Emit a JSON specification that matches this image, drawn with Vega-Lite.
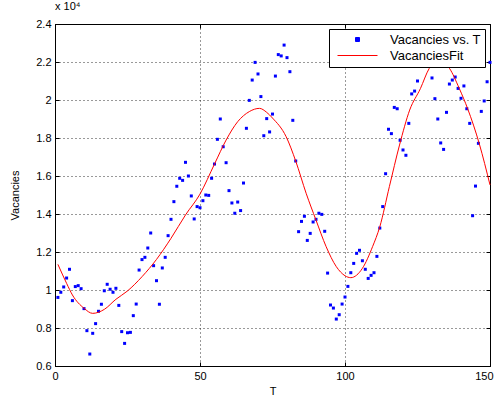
{
  "$schema": "https://vega.github.io/schema/vega-lite/v6.json",
  "width": 435,
  "height": 342,
  "autosize": {"type": "none"},
  "padding": {"left": 55, "top": 24, "right": 6, "bottom": 38},
  "background": "white",
  "title": {"text": "x 10⁴", "anchor": "start", "frame": "group", "offset": 6, "fontSize": 11, "fontWeight": "normal", "font": "Liberation Sans", "color": "black"},
  "config": {
    "view": {"stroke": "black", "strokeWidth": 1},
    "axis": {
      "labelFont": "Liberation Sans", "labelFontSize": 11, "labelColor": "black", "labelOverlap": false,
      "titleFont": "Liberation Sans", "titleFontSize": 11, "titleFontWeight": "normal", "titleColor": "black",
      "domainColor": "black", "tickColor": "black", "tickSize": -4, "labelPadding": 8,
      "gridColor": "black", "gridDash": [1, 3], "gridOpacity": 0.8, "gridWidth": 1
    }
  },
  "resolve": {"axis": {"x": "independent", "y": "independent"}},
  "datasets": {
    "pts": [
      {"T":1,"Vacancies":9610,"series":"Vacancies vs. T"},{"T":2,"Vacancies":9880,"series":"Vacancies vs. T"},{"T":3,"Vacancies":10160,"series":"Vacancies vs. T"},{"T":4,"Vacancies":10630,"series":"Vacancies vs. T"},{"T":5,"Vacancies":11090,"series":"Vacancies vs. T"},
      {"T":6,"Vacancies":9440,"series":"Vacancies vs. T"},{"T":7,"Vacancies":10180,"series":"Vacancies vs. T"},{"T":8,"Vacancies":10230,"series":"Vacancies vs. T"},{"T":9,"Vacancies":10070,"series":"Vacancies vs. T"},{"T":10,"Vacancies":9020,"series":"Vacancies vs. T"},
      {"T":11,"Vacancies":7860,"series":"Vacancies vs. T"},{"T":12,"Vacancies":6630,"series":"Vacancies vs. T"},{"T":13,"Vacancies":7720,"series":"Vacancies vs. T"},{"T":14,"Vacancies":8230,"series":"Vacancies vs. T"},{"T":15,"Vacancies":8880,"series":"Vacancies vs. T"},
      {"T":16,"Vacancies":9250,"series":"Vacancies vs. T"},{"T":17,"Vacancies":9960,"series":"Vacancies vs. T"},{"T":18,"Vacancies":10300,"series":"Vacancies vs. T"},{"T":19,"Vacancies":10040,"series":"Vacancies vs. T"},{"T":20,"Vacancies":9880,"series":"Vacancies vs. T"},
      {"T":21,"Vacancies":10090,"series":"Vacancies vs. T"},{"T":22,"Vacancies":9190,"series":"Vacancies vs. T"},{"T":23,"Vacancies":7810,"series":"Vacancies vs. T"},{"T":24,"Vacancies":7190,"series":"Vacancies vs. T"},{"T":25,"Vacancies":7750,"series":"Vacancies vs. T"},
      {"T":26,"Vacancies":7770,"series":"Vacancies vs. T"},{"T":27,"Vacancies":8650,"series":"Vacancies vs. T"},{"T":28,"Vacancies":9260,"series":"Vacancies vs. T"},{"T":29,"Vacancies":11050,"series":"Vacancies vs. T"},{"T":30,"Vacancies":11600,"series":"Vacancies vs. T"},
      {"T":31,"Vacancies":11720,"series":"Vacancies vs. T"},{"T":32,"Vacancies":12210,"series":"Vacancies vs. T"},{"T":33,"Vacancies":13000,"series":"Vacancies vs. T"},{"T":34,"Vacancies":11280,"series":"Vacancies vs. T"},{"T":35,"Vacancies":10490,"series":"Vacancies vs. T"},
      {"T":36,"Vacancies":9250,"series":"Vacancies vs. T"},{"T":37,"Vacancies":11160,"series":"Vacancies vs. T"},{"T":38,"Vacancies":11720,"series":"Vacancies vs. T"},{"T":39,"Vacancies":12860,"series":"Vacancies vs. T"},{"T":40,"Vacancies":13720,"series":"Vacancies vs. T"},
      {"T":41,"Vacancies":14650,"series":"Vacancies vs. T"},{"T":42,"Vacancies":15460,"series":"Vacancies vs. T"},{"T":43,"Vacancies":15880,"series":"Vacancies vs. T"},{"T":44,"Vacancies":15770,"series":"Vacancies vs. T"},{"T":45,"Vacancies":16720,"series":"Vacancies vs. T"},
      {"T":46,"Vacancies":16000,"series":"Vacancies vs. T"},{"T":47,"Vacancies":14950,"series":"Vacancies vs. T"},{"T":48,"Vacancies":13740,"series":"Vacancies vs. T"},{"T":49,"Vacancies":14390,"series":"Vacancies vs. T"},{"T":50,"Vacancies":14330,"series":"Vacancies vs. T"},
      {"T":51,"Vacancies":14700,"series":"Vacancies vs. T"},{"T":52,"Vacancies":15000,"series":"Vacancies vs. T"},{"T":53,"Vacancies":14980,"series":"Vacancies vs. T"},{"T":54,"Vacancies":15880,"series":"Vacancies vs. T"},{"T":55,"Vacancies":16630,"series":"Vacancies vs. T"},
      {"T":56,"Vacancies":17930,"series":"Vacancies vs. T"},{"T":57,"Vacancies":19000,"series":"Vacancies vs. T"},{"T":58,"Vacancies":17540,"series":"Vacancies vs. T"},{"T":59,"Vacancies":16700,"series":"Vacancies vs. T"},{"T":60,"Vacancies":15230,"series":"Vacancies vs. T"},
      {"T":61,"Vacancies":14580,"series":"Vacancies vs. T"},{"T":62,"Vacancies":14040,"series":"Vacancies vs. T"},{"T":63,"Vacancies":14630,"series":"Vacancies vs. T"},{"T":64,"Vacancies":14180,"series":"Vacancies vs. T"},{"T":65,"Vacancies":15630,"series":"Vacancies vs. T"},
      {"T":66,"Vacancies":18510,"series":"Vacancies vs. T"},{"T":67,"Vacancies":19980,"series":"Vacancies vs. T"},{"T":68,"Vacancies":21050,"series":"Vacancies vs. T"},{"T":69,"Vacancies":21980,"series":"Vacancies vs. T"},{"T":70,"Vacancies":21370,"series":"Vacancies vs. T"},
      {"T":71,"Vacancies":20180,"series":"Vacancies vs. T"},{"T":72,"Vacancies":18120,"series":"Vacancies vs. T"},{"T":73,"Vacancies":19020,"series":"Vacancies vs. T"},{"T":74,"Vacancies":18320,"series":"Vacancies vs. T"},{"T":75,"Vacancies":19260,"series":"Vacancies vs. T"},
      {"T":76,"Vacancies":21260,"series":"Vacancies vs. T"},{"T":77,"Vacancies":22390,"series":"Vacancies vs. T"},{"T":78,"Vacancies":22320,"series":"Vacancies vs. T"},{"T":79,"Vacancies":22890,"series":"Vacancies vs. T"},{"T":80,"Vacancies":22230,"series":"Vacancies vs. T"},
      {"T":81,"Vacancies":21490,"series":"Vacancies vs. T"},{"T":82,"Vacancies":18930,"series":"Vacancies vs. T"},{"T":83,"Vacancies":16790,"series":"Vacancies vs. T"},{"T":84,"Vacancies":13070,"series":"Vacancies vs. T"},{"T":85,"Vacancies":13610,"series":"Vacancies vs. T"},
      {"T":86,"Vacancies":13880,"series":"Vacancies vs. T"},{"T":87,"Vacancies":12610,"series":"Vacancies vs. T"},{"T":88,"Vacancies":12980,"series":"Vacancies vs. T"},{"T":89,"Vacancies":13580,"series":"Vacancies vs. T"},{"T":90,"Vacancies":13720,"series":"Vacancies vs. T"},
      {"T":91,"Vacancies":14040,"series":"Vacancies vs. T"},{"T":92,"Vacancies":13980,"series":"Vacancies vs. T"},{"T":93,"Vacancies":13090,"series":"Vacancies vs. T"},{"T":94,"Vacancies":10890,"series":"Vacancies vs. T"},{"T":95,"Vacancies":9210,"series":"Vacancies vs. T"},
      {"T":96,"Vacancies":9050,"series":"Vacancies vs. T"},{"T":97,"Vacancies":8470,"series":"Vacancies vs. T"},{"T":98,"Vacancies":8700,"series":"Vacancies vs. T"},{"T":99,"Vacancies":9260,"series":"Vacancies vs. T"},{"T":100,"Vacancies":9630,"series":"Vacancies vs. T"},
      {"T":101,"Vacancies":10190,"series":"Vacancies vs. T"},{"T":102,"Vacancies":10910,"series":"Vacancies vs. T"},{"T":103,"Vacancies":11400,"series":"Vacancies vs. T"},{"T":104,"Vacancies":11930,"series":"Vacancies vs. T"},{"T":105,"Vacancies":12090,"series":"Vacancies vs. T"},
      {"T":106,"Vacancies":11540,"series":"Vacancies vs. T"},{"T":107,"Vacancies":11090,"series":"Vacancies vs. T"},{"T":108,"Vacancies":10610,"series":"Vacancies vs. T"},{"T":109,"Vacancies":10770,"series":"Vacancies vs. T"},{"T":110,"Vacancies":10910,"series":"Vacancies vs. T"},
      {"T":111,"Vacancies":11770,"series":"Vacancies vs. T"},{"T":112,"Vacancies":13260,"series":"Vacancies vs. T"},{"T":113,"Vacancies":14390,"series":"Vacancies vs. T"},{"T":114,"Vacancies":16120,"series":"Vacancies vs. T"},{"T":115,"Vacancies":18460,"series":"Vacancies vs. T"},
      {"T":116,"Vacancies":18230,"series":"Vacancies vs. T"},{"T":117,"Vacancies":19610,"series":"Vacancies vs. T"},{"T":118,"Vacancies":19540,"series":"Vacancies vs. T"},{"T":119,"Vacancies":17880,"series":"Vacancies vs. T"},{"T":120,"Vacancies":17370,"series":"Vacancies vs. T"},
      {"T":121,"Vacancies":17090,"series":"Vacancies vs. T"},{"T":122,"Vacancies":18770,"series":"Vacancies vs. T"},{"T":123,"Vacancies":20320,"series":"Vacancies vs. T"},{"T":124,"Vacancies":20470,"series":"Vacancies vs. T"},{"T":125,"Vacancies":21000,"series":"Vacancies vs. T"},
      {"T":126,"Vacancies":22000,"series":"Vacancies vs. T"},{"T":127,"Vacancies":22600,"series":"Vacancies vs. T"},{"T":128,"Vacancies":23000,"series":"Vacancies vs. T"},{"T":129,"Vacancies":22200,"series":"Vacancies vs. T"},{"T":130,"Vacancies":21160,"series":"Vacancies vs. T"},
      {"T":131,"Vacancies":20070,"series":"Vacancies vs. T"},{"T":132,"Vacancies":19000,"series":"Vacancies vs. T"},{"T":133,"Vacancies":17740,"series":"Vacancies vs. T"},{"T":134,"Vacancies":17400,"series":"Vacancies vs. T"},{"T":135,"Vacancies":19350,"series":"Vacancies vs. T"},
      {"T":136,"Vacancies":20840,"series":"Vacancies vs. T"},{"T":137,"Vacancies":21050,"series":"Vacancies vs. T"},{"T":138,"Vacancies":21210,"series":"Vacancies vs. T"},{"T":139,"Vacancies":20610,"series":"Vacancies vs. T"},{"T":140,"Vacancies":20090,"series":"Vacancies vs. T"},
      {"T":141,"Vacancies":20740,"series":"Vacancies vs. T"},{"T":142,"Vacancies":19540,"series":"Vacancies vs. T"},{"T":143,"Vacancies":18770,"series":"Vacancies vs. T"},{"T":144,"Vacancies":13910,"series":"Vacancies vs. T"},{"T":145,"Vacancies":15470,"series":"Vacancies vs. T"},
      {"T":146,"Vacancies":17720,"series":"Vacancies vs. T"},{"T":147,"Vacancies":19400,"series":"Vacancies vs. T"},{"T":148,"Vacancies":19950,"series":"Vacancies vs. T"},{"T":149,"Vacancies":20960,"series":"Vacancies vs. T"},{"T":150,"Vacancies":21980,"series":"Vacancies vs. T"}
    ],
    "fit": [
      {"T":1,"Vacancies":11350,"series":"VacanciesFit"},{"T":4,"Vacancies":10350,"series":"VacanciesFit"},{"T":6,"Vacancies":9740,"series":"VacanciesFit"},{"T":10,"Vacancies":9040,"series":"VacanciesFit"},
      {"T":13,"Vacancies":8770,"series":"VacanciesFit"},{"T":17,"Vacancies":8980,"series":"VacanciesFit"},{"T":21,"Vacancies":9510,"series":"VacanciesFit"},{"T":25,"Vacancies":9950,"series":"VacanciesFit"},
      {"T":30,"Vacancies":10700,"series":"VacanciesFit"},{"T":35,"Vacancies":11610,"series":"VacanciesFit"},{"T":40,"Vacancies":12720,"series":"VacanciesFit"},{"T":45,"Vacancies":13950,"series":"VacanciesFit"},
      {"T":50,"Vacancies":15050,"series":"VacanciesFit"},{"T":55,"Vacancies":16630,"series":"VacanciesFit"},{"T":59,"Vacancies":17890,"series":"VacanciesFit"},{"T":63,"Vacancies":18860,"series":"VacanciesFit"},
      {"T":67,"Vacancies":19390,"series":"VacanciesFit"},{"T":70.5,"Vacancies":19560,"series":"VacanciesFit"},{"T":73,"Vacancies":19350,"series":"VacanciesFit"},{"T":75,"Vacancies":19050,"series":"VacanciesFit"},
      {"T":79.7,"Vacancies":18070,"series":"VacanciesFit"},{"T":83,"Vacancies":16790,"series":"VacanciesFit"},{"T":86.6,"Vacancies":15090,"series":"VacanciesFit"},{"T":90,"Vacancies":13680,"series":"VacanciesFit"},
      {"T":93.5,"Vacancies":12280,"series":"VacanciesFit"},{"T":97,"Vacancies":11230,"series":"VacanciesFit"},{"T":100,"Vacancies":10750,"series":"VacanciesFit"},{"T":102,"Vacancies":10650,"series":"VacanciesFit"},
      {"T":106,"Vacancies":11140,"series":"VacanciesFit"},{"T":109.5,"Vacancies":12280,"series":"VacanciesFit"},{"T":112,"Vacancies":13330,"series":"VacanciesFit"},{"T":115.3,"Vacancies":15440,"series":"VacanciesFit"},
      {"T":118.8,"Vacancies":17630,"series":"VacanciesFit"},{"T":122.3,"Vacancies":19470,"series":"VacanciesFit"},{"T":126,"Vacancies":20600,"series":"VacanciesFit"},{"T":129,"Vacancies":21650,"series":"VacanciesFit"},
      {"T":132.5,"Vacancies":22100,"series":"VacanciesFit"},{"T":136,"Vacancies":21670,"series":"VacanciesFit"},{"T":139.4,"Vacancies":20610,"series":"VacanciesFit"},{"T":142.3,"Vacancies":19540,"series":"VacanciesFit"},
      {"T":146.3,"Vacancies":17700,"series":"VacanciesFit"},{"T":150,"Vacancies":15530,"series":"VacanciesFit"}
    ]
  },
  "layer": [
    {
      "data": {"name": "pts"},
      "mark": {"type": "point", "filled": true, "opacity": 1},
      "encoding": {
        "x": {"field": "T", "type": "quantitative", "scale": {"domain": [0, 150], "nice": false},
              "axis": {"values": [0, 50, 100, 150], "grid": true, "title": "T", "titlePadding": 4, "labelFlush": true, "labelFlushOffset": 3}},
        "y": {"field": "Vacancies", "type": "quantitative", "scale": {"domain": [6000, 24000], "nice": false},
              "axis": {"values": [6000, 8000, 10000, 12000, 14000, 16000, 18000, 20000, 22000, 24000], "grid": true, "title": "Vacancies", "titlePadding": 15, "labelFlush": false,
                       "labelExpr": "format(datum.value/10000, '.2~g')"}},
        "color": {"field": "series", "type": "nominal",
                  "scale": {"domain": ["Vacancies vs. T", "VacanciesFit"], "range": ["#0000ff", "#ff0000"]},
                  "legend": {"title": null, "orient": "top-right", "offset": 5, "fillColor": "white", "strokeColor": "black",
                             "padding": 4, "labelFont": "Liberation Sans", "labelFontSize": 13, "labelColor": "black", "rowPadding": 2,
                             "symbolOffset": 18, "labelOffset": 26,
                             "symbolSize": 16, "symbolStrokeWidth": 1,
                             "encode": {"symbols": {"update": {"stroke": {"scale": "color", "field": "value"}}}}}},
        "shape": {"field": "series", "type": "nominal",
                  "scale": {"domain": ["Vacancies vs. T", "VacanciesFit"], "range": ["square", "M-10,0H10"]}},
        "size": {"value": 9}
      }
    },
    {
      "data": {"name": "fit"},
      "mark": {"type": "line", "interpolate": "monotone", "strokeWidth": 1},
      "encoding": {
        "x": {"field": "T", "type": "quantitative",
              "axis": {"orient": "top", "values": [0, 50, 100, 150], "labels": false, "grid": false, "domain": false, "title": null}},
        "y": {"field": "Vacancies", "type": "quantitative",
              "axis": {"orient": "right", "values": [6000, 8000, 10000, 12000, 14000, 16000, 18000, 20000, 22000, 24000], "labels": false, "grid": false, "domain": false, "title": null}},
        "color": {"field": "series", "type": "nominal"}
      }
    }
  ]
}
